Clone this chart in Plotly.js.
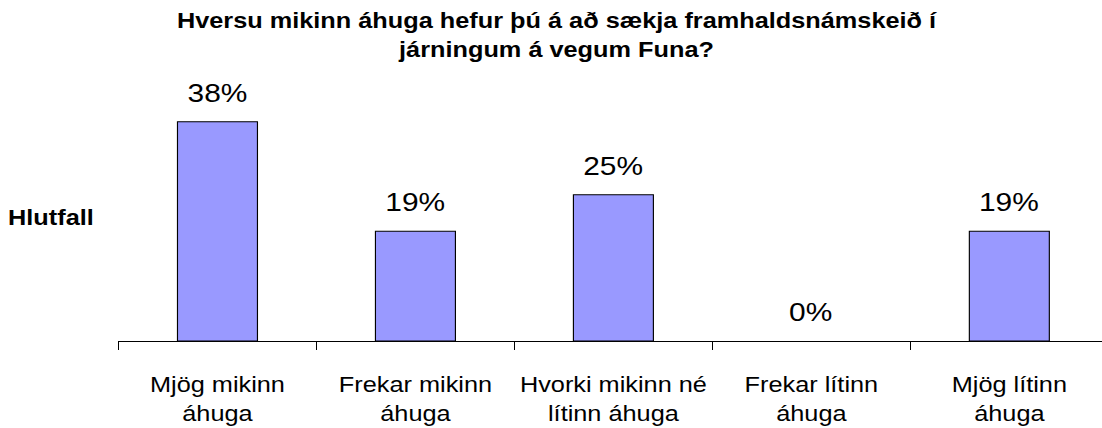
<!DOCTYPE html>
<html>
<head>
<meta charset="utf-8">
<script src="https://cdn.plot.ly/plotly-3.0.1.min.js"></script>
<style>
  html, body { margin: 0; padding: 0; overflow: hidden; background: #fff; }
  #chart { width: 958px; height: 428px; transform: scaleX(1.1503); transform-origin: 0 0; }
</style>
</head>
<body>
<div id="chart"></div>
<script>
// Data
const categories = ['Mjög mikinn<br>áhuga', 'Frekar mikinn<br>áhuga', 'Hvorki mikinn né<br>lítinn áhuga', 'Frekar lítinn<br>áhuga', 'Mjög lítinn<br>áhuga'];
const values = [37.5, 18.75, 25, 0, 18.75];
const titleText = 'Hversu mikinn áhuga hefur þú á að sækja framhaldsnámskeið í<br>járningum á vegum Funa?';
const yTitle = 'Hlutfall';

const FONT = 'Liberation Sans, Arial, sans-serif';

const trace = {
  type: 'bar',
  x: categories,
  y: values,
  marker: { color: '#9999FF', line: { color: '#000000', width: values.map(v => v > 0 ? 1 : 0) } },
  hoverinfo: 'skip'
};

const valueLabels = values.map((v, i) => ({
  x: categories[i], y: v, xref: 'x', yref: 'y',
  text: Math.round(v) + '%',
  showarrow: false, yanchor: 'bottom', yshift: 12,
  font: { family: FONT, size: 26, color: '#000' }
}));

const layout = {
  width: 958, height: 428,
  margin: { l: 103, r: 0, t: 100, b: 87 },
  paper_bgcolor: '#fff', plot_bgcolor: '#fff',
  showlegend: false,
  bargap: 0.596,
  font: { family: FONT, color: '#000' },
  title: {
    text: titleText,
    font: { family: FONT, size: 22, weight: 'bold', color: '#000' },
    xref: 'container', x: 0.505, xanchor: 'center',
    yref: 'container', y: 0.934, yanchor: 'top'
  },
  xaxis: {
    type: 'category',
    range: [-0.5, 4.468],
    showline: true, linecolor: '#000', linewidth: 1,
    ticks: 'outside', tickson: 'boundaries', ticklen: 8, tickcolor: '#000', tickwidth: 1,
    ticklabelstandoff: 24,
    tickfont: { family: FONT, size: 22, color: '#000' },
    showgrid: false, zeroline: false, fixedrange: true
  },
  yaxis: {
    range: [0, 41.2],
    visible: false, showgrid: false, zeroline: false, fixedrange: true
  },
  annotations: valueLabels.concat([{
    xref: 'paper', yref: 'paper', x: -0.0228, y: 0.5145,
    xanchor: 'right', yanchor: 'middle', showarrow: false,
    text: yTitle,
    font: { family: FONT, size: 22, weight: 'bold', color: '#000' }
  }])
};

Plotly.newPlot('chart', [trace], layout, { displayModeBar: false, staticPlot: true });
</script>
</body>
</html>
